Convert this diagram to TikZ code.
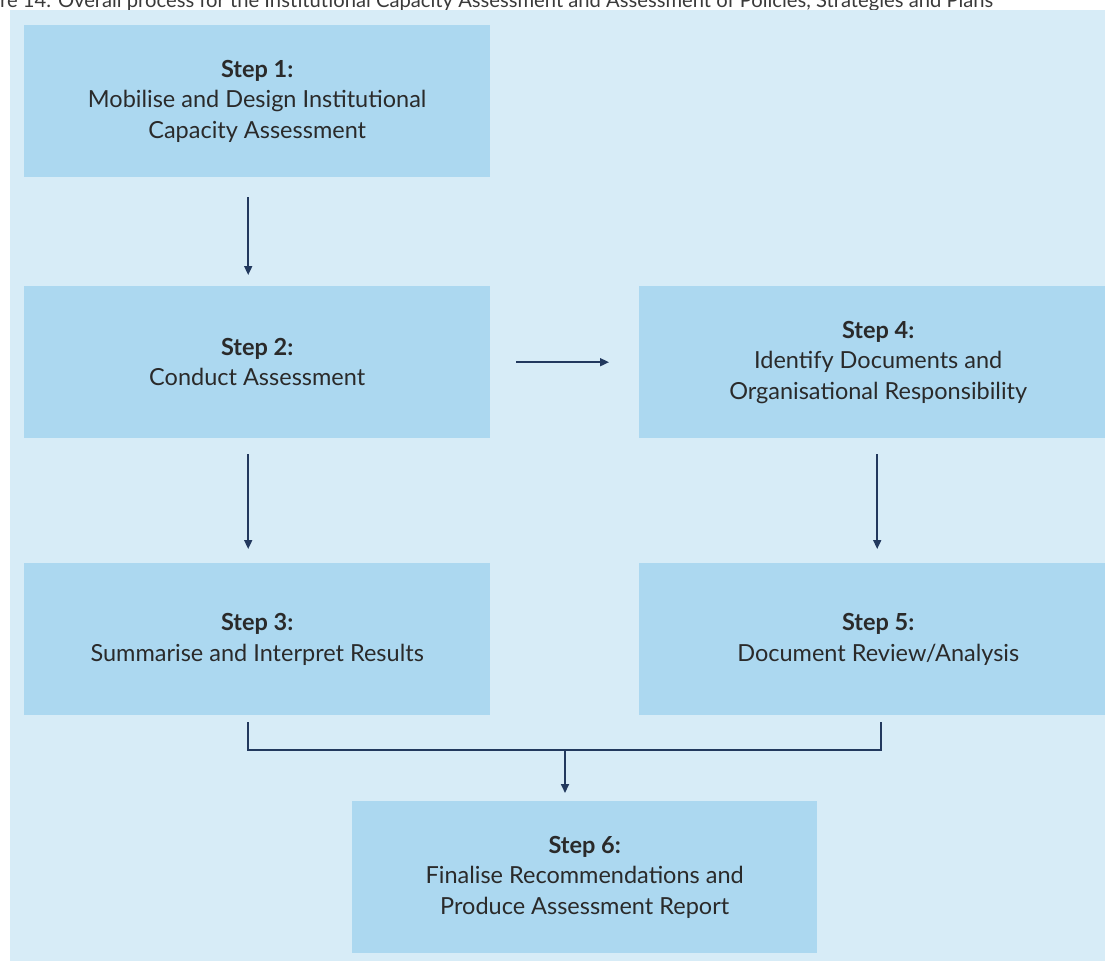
\documentclass[tikz,border=0pt]{standalone}
\usepackage{fontspec}
\setmainfont{Lato}
\usetikzlibrary{arrows.meta}
\definecolor{bgblue}{HTML}{D7ECF7}
\definecolor{boxblue}{HTML}{ACD8F0}
\definecolor{navy}{HTML}{22395E}
\definecolor{txt}{HTML}{2A2A2A}
\definecolor{captxt}{HTML}{3A3A3A}
\begin{document}
\begin{tikzpicture}[x=1pt,y=-1pt,
  stepbox/.style={fill=boxblue, minimum width=466pt, minimum height=152pt, inner sep=0pt,
    align=center, font=\fontsize{23.5}{30.5}\selectfont, text=txt, anchor=north west},
  flow/.style={draw=navy, line width=1.7pt, -{Triangle[length=9pt,width=8pt]}},
  joinline/.style={draw=navy, line width=1.7pt}]
\useasboundingbox (0,0) rectangle (1105,961);
\clip (0,0) rectangle (1105,961);
\node[anchor=base west, inner sep=0pt, text=captxt] (cap) at (0,7.5)
  {\resizebox{993pt}{!}{\fontsize{16}{16}\selectfont re 14. Overall process for the Institutional Capacity Assessment and Assessment of Policies, Strategies and Plans}};
\fill[bgblue] (10,10) rectangle (1105,961);
\node[stepbox] (s1) at (24,25) {\textbf{Step 1:}\\Mobilise and Design Institutional\\Capacity Assessment};
\node[stepbox] (s2) at (24,286) {\textbf{Step 2:}\\Conduct Assessment};
\node[stepbox] (s3) at (24,563) {\textbf{Step 3:}\\Summarise and Interpret Results};
\node[stepbox, minimum width=478pt] (s4) at (639,286) {\textbf{Step 4:}\\Identify Documents and\\Organisational Responsibility};
\node[stepbox, minimum width=478pt] (s5) at (639,563) {\textbf{Step 5:}\\Document Review/Analysis};
\node[stepbox, minimum width=465pt] (s6) at (352,801) {\textbf{Step 6:}\\Finalise Recommendations and\\Produce Assessment Report};
\draw[flow] ([xshift=-9pt,yshift=-20pt]s1.south) -- ([xshift=-9pt,yshift=11pt]s2.north);
\draw[flow] ([xshift=26pt]s2.east) -- ([xshift=-30pt]s4.west);
\draw[flow] ([xshift=-9pt,yshift=-16pt]s2.south) -- ([xshift=-9pt,yshift=14pt]s3.north);
\draw[flow] ([xshift=-1pt,yshift=-16pt]s4.south) -- ([xshift=-1pt,yshift=14pt]s5.north);
\coordinate (j) at (565,750);
\draw[joinline] ([xshift=-9pt,yshift=-7pt]s3.south) |- (j) -| ([xshift=3pt,yshift=-7pt]s5.south);
\draw[flow] (j) -- ([yshift=8pt]s6.north -| j);
\end{tikzpicture}
\end{document}
